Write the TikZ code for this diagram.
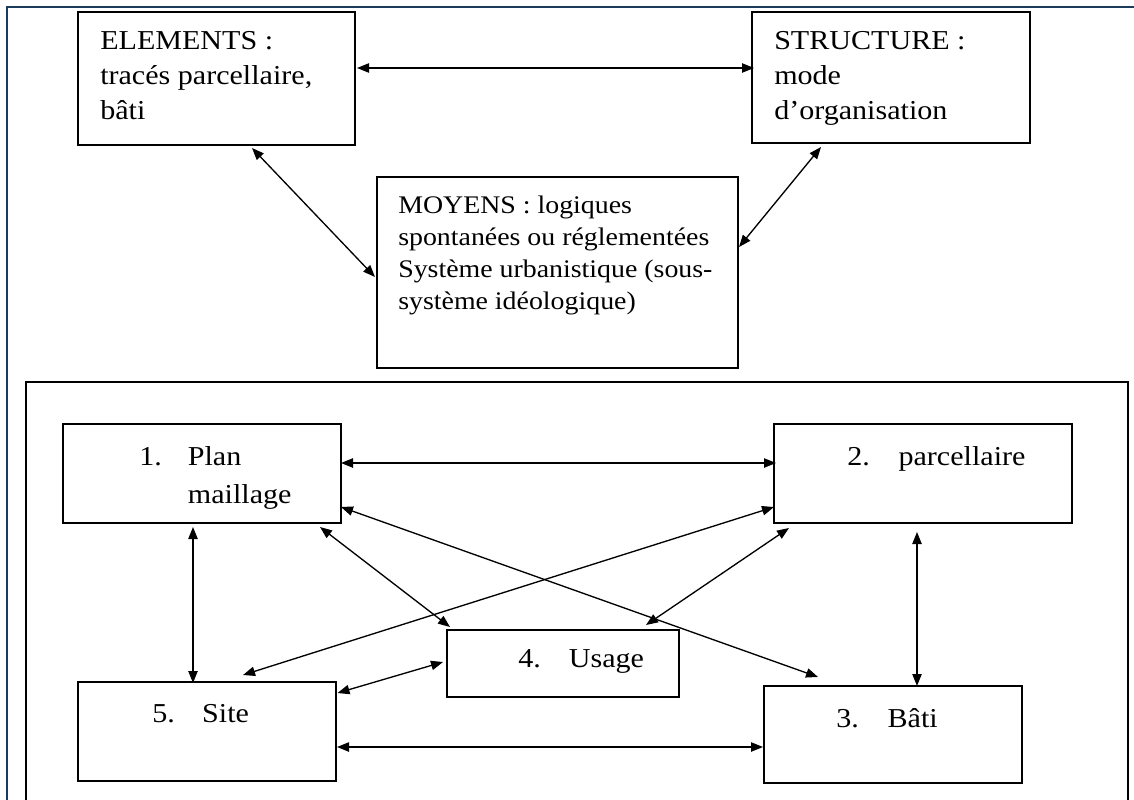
\documentclass[tikz,border=0pt]{standalone}
\usepackage{fontspec}
\setmainfont{Liberation Serif}[FakeStretch=1.1]
\usetikzlibrary{positioning,calc,arrows.meta}
\definecolor{cadrebleu}{RGB}{28,58,92}
\newcommand{\lignes}[1]{\begin{tabular}[t]{@{}l@{}}#1\end{tabular}}
\tikzset{
  boite/.style={draw, line width=1.3pt, inner sep=0pt, outer sep=0pt},
  texte/.style={anchor=base west, inner sep=0pt, font=\fontsize{20.5}{26}\selectfont},
  fleche/.style={{Triangle[length=9pt,width=7pt]}-{Triangle[length=9pt,width=7pt]}, line width=1pt},
}

\begin{document}
\begin{tikzpicture}[x=0.75pt,y=0.75pt,yscale=-1,xscale=1]
\clip (0,0) rectangle (1134,799);
\fill[white] (0,0) rectangle (1134,799);

% cadres
\draw[cadrebleu, line width=1.6pt] (7,820) -- (7,7) -- (1150,7);
\draw[line width=1.3pt] (26,820) -- (26,382) -- (1128,382) -- (1128,820);

% partie haute
\node[boite, minimum width=207.75pt, minimum height=99.75pt] (elem) at (216.5,78.5) {};
\node[texte] (elemtxt) at (100,50) {\lignes{ELEMENTS :\\tracés parcellaire,\\bâti}};

\node[boite, minimum width=208.5pt, minimum height=98.25pt] (struc) at (891,77.5) {};
\node[texte] (structxt) at (774,50) {\lignes{STRUCTURE :\\mode\\d’organisation}};

\node[boite, minimum width=270.75pt, minimum height=143.25pt] (moy) at (557.5,272.5) {};
\node[texte, font=\fontsize{19}{24}\selectfont] (moytxt) at (398,213) {\lignes{MOYENS : logiques\\spontanées ou réglementées\\Système urbanistique (sous-\\système idéologique)}};

% partie basse
\node[boite, minimum width=208.5pt, minimum height=74.25pt] (plan) at (202,473.5) {};
\node[texte, font=\fontsize{20.5}{28.5}\selectfont] (plantxt) at (139,465) {\lignes{\makebox[36.5pt][l]{1.}Plan\\\hspace*{36.5pt}maillage}};

\node[boite, minimum width=223.5pt, minimum height=74.25pt] (parc) at (923,473.5) {};
\node[texte] (parctxt) at (847,465) {\makebox[38.5pt][l]{2.}parcellaire};

\node[boite, minimum width=174pt, minimum height=50.25pt] (usage) at (563,663.5) {};
\node[texte] (usagetxt) at (518,667) {\makebox[38pt][l]{4.}Usage};

\node[boite, minimum width=193.5pt, minimum height=74.25pt] (site) at (207,731.5) {};
\node[texte] (sitetxt) at (152,722) {\makebox[37.5pt][l]{5.}Site};

\node[boite, minimum width=193.5pt, minimum height=72.75pt] (bati) at (893,734.5) {};
\node[texte] (batitxt) at (836,727) {\makebox[38.5pt][l]{3.}Bâti};

% liaisons
\draw[fleche] ($(elem.east)+(2,-10.5)$) -- ($(struc.west)+(2,-9.5)$);
\draw[fleche] ($(elem.south)+(35.5,3)$) -- ($(moy.west)+(-2,4.5)$);
\draw[fleche] ($(struc.south)+(-70,4)$) -- ($(moy.east)+(1,-25.5)$);

\draw[fleche] ($(plan.east)+(0,-10.5)$) -- ($(parc.west)+(2,-10.5)$);
\draw[fleche] ($(plan.south east)+(0,-16)$) -- ($(bati.north)+(-75,-9)$);
\draw[fleche] ($(plan.south)+(118,4)$) -- ($(usage.north west)+(3,-3)$);
\draw[fleche] ($(plan.south)+(-9,4)$) -- ($(site.north)+(-14,1)$);
\draw[fleche] ($(site.north)+(36,-7)$) -- ($(parc.west)+(0,33.5)$);
\draw[fleche] ($(usage.north)+(83,-5)$) -- ($(parc.south west)+(15,5)$);
\draw[fleche] ($(site.north east)+(1.5,11)$) -- ($(usage.west)+(-4,-1.5)$);
\draw[fleche] ($(site.east)+(1,15.5)$) -- ($(bati.west)+(-1,12.5)$);
\draw[fleche] ($(parc.south)+(-6,9)$) -- ($(bati.north)+(24,0)$);

\end{tikzpicture}
\end{document}
